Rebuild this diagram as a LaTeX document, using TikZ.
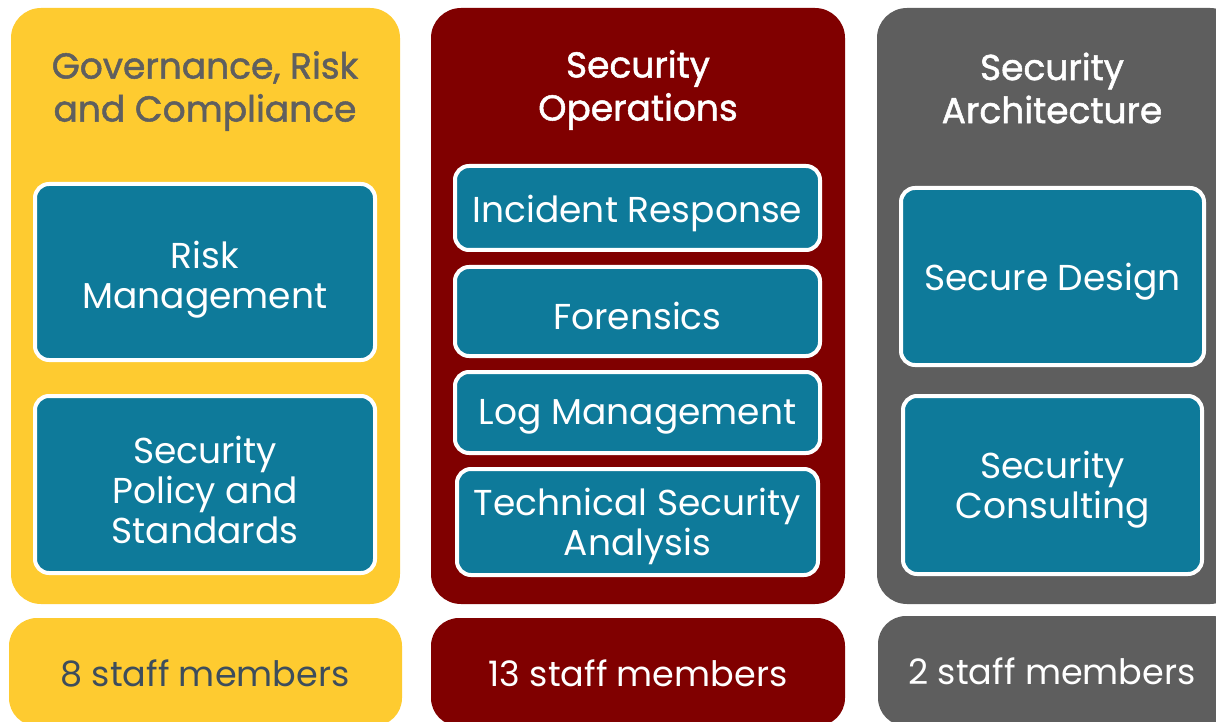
\documentclass[tikz,border=0pt]{standalone}
\usepackage{fontspec}
\setmainfont{Poppins}
\newfontfamily\semibold{Poppins}[FakeBold=1.4]
\definecolor{cyel}{HTML}{FECB30}
\definecolor{cred}{HTML}{800000}
\definecolor{cgry}{HTML}{5E5E5E}
\definecolor{cteal}{HTML}{0E7A9A}
\definecolor{ctitle}{HTML}{5F5F5F}
\definecolor{cslate}{HTML}{3D4D5C}
\begin{document}
\begin{tikzpicture}[x=1pt,y=-1pt,
  col/.style={draw=none, rounded corners=30pt, inner sep=0pt},
  foot/.style={draw=none, rounded corners=28pt, inner sep=0pt},
  sub/.style={fill=cteal, draw=white, line width=4pt, rounded corners=14pt, inner sep=0pt},
  subtxt/.style={text=white, align=center, inner sep=0pt, font=\fontsize{36}{40}\selectfont},
  foottxt/.style={font=\fontsize{35}{40}\selectfont, inner sep=0pt},
  ttl/.style={align=center, font=\fontsize{36}{43}\selectfont\semibold, inner sep=0pt}]
\useasboundingbox (0,0) rectangle (1216,722);
\clip (0,0) rectangle (1216,722);
% columns
\node[col, fill=cyel, minimum width=389pt, minimum height=596pt] (cy) at (205.5,306) {};
\node[col, fill=cred, minimum width=414pt, minimum height=596pt] (cr) at (638,306) {};
\node[col, fill=cgry, minimum width=363pt, minimum height=596pt] (cg) at (1058.5,306) {};
% titles
\node[ttl, text=ctitle] (ty) at (205,91) {Governance, Risk\\and Compliance};
\node[ttl, text=white] (tr) at (638,90) {Security\\Operations};
\node[ttl, text=white] (tg) at (1052,88) {Security\\Architecture};
% sub boxes
\node[sub, minimum width=340pt, minimum height=176pt] (y1) at (205,272) {};
\node[sub, minimum width=340pt, minimum height=177pt] (y2) at (205,484.5) {};
\node[sub, minimum width=365pt, minimum height=84pt] (r1) at (637.5,208) {};
\node[sub, minimum width=365pt, minimum height=89pt] (r2) at (637.5,311.5) {};
\node[sub, minimum width=365pt, minimum height=81pt] (r3) at (637.5,412.5) {};
\node[sub, minimum width=361pt, minimum height=106pt] (r4) at (637.5,522) {};
\node[sub, minimum width=303pt, minimum height=177pt] (g1) at (1052.5,276.5) {};
\node[sub, minimum width=299pt, minimum height=178pt] (g2) at (1052.5,485) {};
\node[subtxt] (y1t) at ([yshift=-8pt]y1.center) {Risk\\Management};
\node[subtxt] (y2t) at ([yshift=-5pt]y2.center) {Security\\Policy and\\Standards};
\node[subtxt] (r1t) at ([yshift=-5pt]r1.center) {Incident Response};
\node[subtxt] (r2t) at ([yshift=-4pt]r2.center) {Forensics};
\node[subtxt] (r3t) at ([yshift=-4pt]r3.center) {Log Management};
\node[subtxt] (r4t) at ([yshift=-4pt]r4.center) {Technical Security\\Analysis};
\node[subtxt] (g1t) at ([yshift=-5pt]g1.center) {Secure Design};
\node[subtxt] (g2t) at ([yshift=-5pt]g2.center) {Security\\Consulting};
% footers
\node[foot, fill=cyel, minimum width=393pt, minimum height=108pt] (fy) at (205.5,672) {};
\node[foot, fill=cred, minimum width=414pt, minimum height=108pt] (fr) at (638,672) {};
\node[foot, fill=cgry, minimum width=362pt, minimum height=110pt] (fg) at (1059,671) {};
\node[foottxt, text=cslate] (ly) at (205,673) {8 staff members};
\node[foottxt, text=white] (lr) at (638,673) {13 staff members};
\node[foottxt, text=white] (lg) at (1052,671) {2 staff members};
\end{tikzpicture}
\end{document}
